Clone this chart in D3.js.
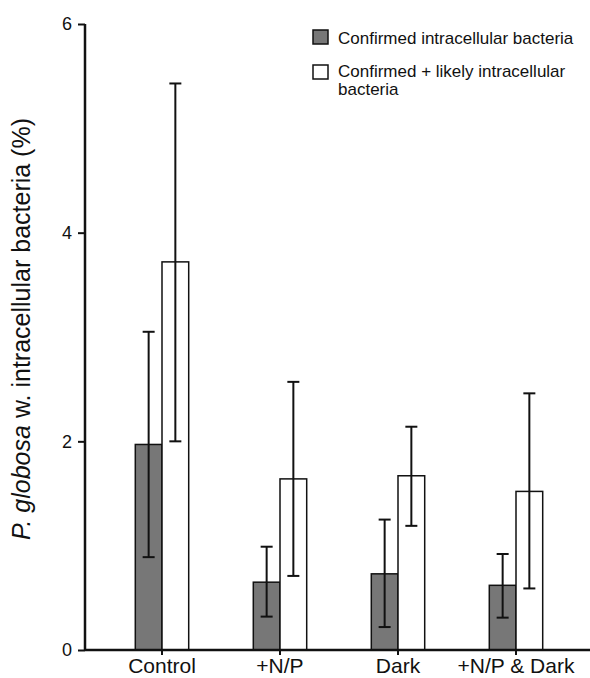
<!DOCTYPE html>
<html>
  <head>
    <meta charset="utf-8"/>
    <title>Intracellular bacteria</title>
    <script src="https://cdnjs.cloudflare.com/ajax/libs/d3/7.8.5/d3.min.js"></script>
    <style>
      body { margin: 0; background: #fff; }
      text { font-family: "Liberation Sans", Arial, sans-serif; fill: #111; }
    </style>
  </head>
  <body>
    <script>

      var categories = ["Control", "+N/P", "Dark", "+N/P & Dark"];
      var seriesNames = ["Confirmed intracellular bacteria", "Confirmed + likely intracellular bacteria"];
      var confirmed = [1.97, 0.65, 0.73, 0.62];
      var confirmedLow = [0.89, 0.32, 0.22, 0.31];
      var confirmedHigh = [3.05, 0.99, 1.25, 0.92];
      var likely = [3.72, 1.64, 1.67, 1.52];
      var likelyLow = [2.0, 0.71, 1.19, 0.59];
      var likelyHigh = [5.43, 2.57, 2.14, 2.46];
      var yTicks = [0, 2, 4, 6];

      var width = 590, height = 678;
      var barW = 26.7;

      var svg = d3.select("body").append("svg")
        .attr("width", width)
        .attr("height", height);

      var x = d3.scaleBand().domain(categories).range([103, 575]);
      var y = d3.scaleLinear().domain([0, 6]).range([650, 24]);

      var series = [
        { vals: confirmed, lo: confirmedLow, hi: confirmedHigh, fill: "#777777", off: -barW },
        { vals: likely, lo: likelyLow, hi: likelyHigh, fill: "#ffffff", off: 0 }
      ];

      var center = function (c){ return x(c) + x.bandwidth() / 2; };

      series.forEach(function (s){
        var g = svg.append("g");
        g.selectAll("rect").data(categories).enter().append("rect")
          .attr("x", function (c){ return center(c) + s.off; })
          .attr("y", function (c, i){ return y(s.vals[i]); })
          .attr("width", barW)
          .attr("height", function (c, i){ return y(0) - y(s.vals[i]); })
          .attr("fill", s.fill)
          .attr("stroke", "#111")
          .attr("stroke-width", 1.5);

        // error bars
        var eb = g.selectAll("g.err").data(categories).enter().append("g")
          .attr("stroke", "#111")
          .attr("stroke-width", 2);
        eb.append("line")
          .attr("x1", function (c){ return center(c) + s.off + barW / 2; })
          .attr("x2", function (c){ return center(c) + s.off + barW / 2; })
          .attr("y1", function (c, i){ return y(s.lo[i]); })
          .attr("y2", function (c, i){ return y(s.hi[i]); });
        [s.lo, s.hi].forEach(function (arr){
          eb.append("line")
            .attr("x1", function (c){ return center(c) + s.off + barW / 2 - 6; })
            .attr("x2", function (c){ return center(c) + s.off + barW / 2 + 6; })
            .attr("y1", function (c, i){ return y(arr[i]); })
            .attr("y2", function (c, i){ return y(arr[i]); });
        });
      });

      // y axis
      var yAxis = svg.append("g")
        .attr("transform", "translate(85,0)")
        .call(d3.axisLeft(y).tickValues(yTicks).tickSize(7).tickPadding(6).tickFormat(d3.format("d")));
      yAxis.select(".domain").attr("d", "M0," + y(6) + "V" + y(0)).attr("stroke", "#111").attr("stroke-width", 2.5);
      yAxis.selectAll(".tick line").attr("stroke", "#111").attr("stroke-width", 2);
      yAxis.selectAll(".tick text").attr("font-size", 18).attr("fill", "#111")
        .style("font-family", "'Liberation Sans', Arial, sans-serif");

      // x axis
      var xAxis = svg.append("g")
        .attr("transform", "translate(0," + y(0) + ")")
        .call(d3.axisBottom(x).tickSize(5).tickPadding(3));
      xAxis.select(".domain").attr("d", "M85,0H590").attr("stroke", "#111").attr("stroke-width", 2.5);
      xAxis.selectAll(".tick line").attr("stroke", "#111").attr("stroke-width", 2);
      xAxis.selectAll(".tick text").attr("font-size", 21).attr("fill", "#111")
        .style("font-family", "'Liberation Sans', Arial, sans-serif");

      // y label
      var yl = svg.append("text")
        .attr("transform", "translate(30,329) rotate(-90)")
        .attr("text-anchor", "middle")
        .attr("font-size", 25);
      yl.append("tspan").attr("font-style", "italic").text("P. globosa");
      yl.append("tspan").text(" w. intracellular bacteria (%)");

      // legend
      var legend = svg.append("g");
      legend.append("rect").attr("x", 313).attr("y", 30).attr("width", 15).attr("height", 14)
        .attr("fill", series[0].fill).attr("stroke", "#111").attr("stroke-width", 1.5);
      legend.append("text").attr("x", 338).attr("y", 43.5).attr("font-size", 17).text(seriesNames[0]);
      legend.append("rect").attr("x", 313).attr("y", 65).attr("width", 15).attr("height", 14)
        .attr("fill", series[1].fill).attr("stroke", "#111").attr("stroke-width", 1.5);
      var lt = legend.append("text").attr("x", 338).attr("y", 77).attr("font-size", 17);
      lt.append("tspan").attr("x", 338).text("Confirmed + likely intracellular");
      lt.append("tspan").attr("x", 338).attr("dy", 18).text("bacteria");

    </script>
  </body>
</html>
